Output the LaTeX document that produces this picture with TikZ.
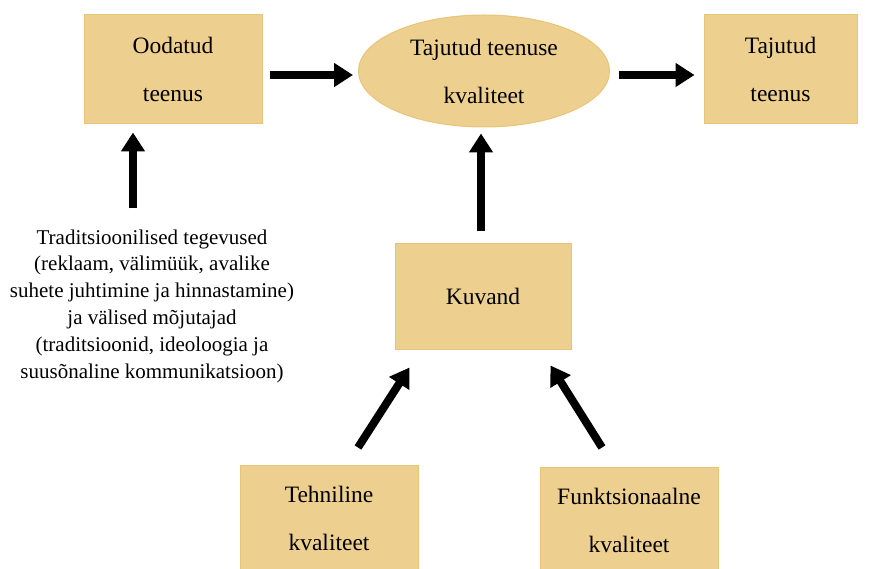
\documentclass[tikz,border=0pt]{standalone}
\usepackage{fontspec}
\setmainfont{Liberation Serif}
\usetikzlibrary{arrows.meta,shapes.geometric}
\definecolor{boxfill}{RGB}{237,208,143}
\definecolor{boxline}{RGB}{232,196,118}
\tikzset{
  box/.style={draw=boxline, fill=boxfill, line width=1pt, inner sep=0pt, align=center,
    font=\fontsize{23.5}{48}\selectfont},
  oval/.style={ellipse, draw=boxline, fill=boxfill, line width=1pt, inner sep=0pt, align=center,
    font=\fontsize{23.5}{48}\selectfont, minimum width=251pt, minimum height=112pt},
  arr/.style={line width=8pt, -{Triangle[width=23pt,length=19pt]}},
  plain/.style={inner sep=0pt, align=center, font=\fontsize{21}{26.8}\selectfont}
}
\begin{document}
\begin{tikzpicture}[x=1pt,y=-1pt]
\clip (0,0) rectangle (872,569);
\useasboundingbox (0,0) rectangle (872,569);
\node[box, minimum width=178pt, minimum height=109pt] (ood) at (173,69.5) {Oodatud\\teenus};
\node[oval] (tajk) at (484,71) {Tajutud teenuse\\kvaliteet};
\node[box, minimum width=153pt, minimum height=109pt] (tajt) at (780.5,69.5) {Tajutud\\teenus};
\node[box, minimum width=176pt, minimum height=105pt] (kuv) at (483,296.5) {Kuvand};
\node[box, minimum width=178pt, minimum height=106pt] (teh) at (329,518) {Tehniline\\kvaliteet};
\node[box, minimum width=178pt, minimum height=106pt] (fun) at (629,520) {Funktsionaalne\\kvaliteet};
\node[plain] (trad) at (152,306) {Traditsioonilised tegevused\\(reklaam, välimüük, avalike\\suhete juhtimine ja hinnastamine)\\ja välised mõjutajad\\(traditsioonid, ideoloogia ja\\suusõnaline kommunikatsioon)};
\draw[arr] ([shift={(7,5.5)}]ood.east) -- ([shift={(-5,4)}]tajk.west);
\draw[arr] ([shift={(8.5,4)}]tajk.east) -- ([shift={(-9,5.5)}]tajt.west);
\draw[arr] (trad.north -| 133,0) ++(0,-21) -- ([shift={(-40,8)}]ood.south);
\draw[arr] ([shift={(-2,-12)}]kuv.north) -- ([shift={(-3,6)}]tajk.south);
\draw[arr] ([shift={(29,-17)}]teh.north) -- ([shift={(15,18)}]kuv.south west);
\draw[arr] ([shift={(-27,-19)}]fun.north) -- ([shift={(-21,16)}]kuv.south east);
\end{tikzpicture}
\end{document}
